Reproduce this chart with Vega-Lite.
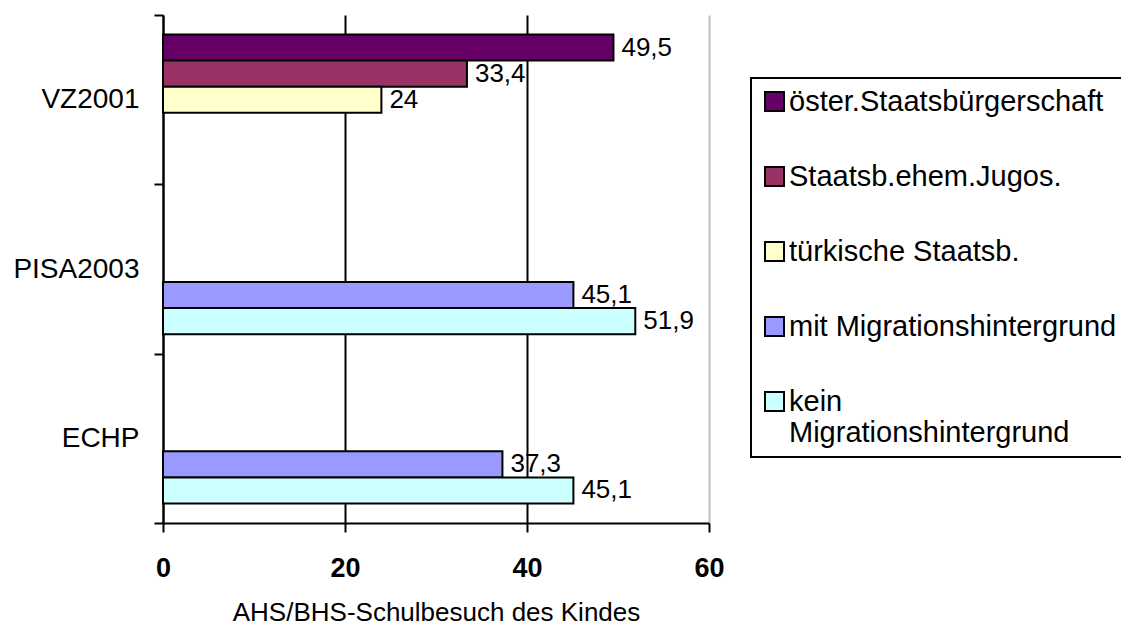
{
  "$schema": "https://vega.github.io/schema/vega-lite/v6.json",
  "width": 546,
  "height": 508,
  "autosize": {"type": "none"},
  "padding": {"left": 163, "top": 15, "right": 412, "bottom": 103},
  "config": {
    "view": {"stroke": null},
    "font": "Liberation Sans",
    "locale": {
      "number": {"decimal": ",", "thousands": ".", "grouping": [3], "currency": ["", " €"]}
    }
  },
  "data": {
    "values": [
      {"Erhebung": "VZ2001", "Gruppe": "öster.Staatsbürgerschaft", "Anteil": 49.5},
      {"Erhebung": "VZ2001", "Gruppe": "Staatsb.ehem.Jugos.", "Anteil": 33.4},
      {"Erhebung": "VZ2001", "Gruppe": "türkische Staatsb.", "Anteil": 24},
      {"Erhebung": "PISA2003", "Gruppe": "mit Migrationshintergrund", "Anteil": 45.1},
      {"Erhebung": "PISA2003", "Gruppe": "kein Migrationshintergrund", "Anteil": 51.9},
      {"Erhebung": "ECHP", "Gruppe": "mit Migrationshintergrund", "Anteil": 37.3},
      {"Erhebung": "ECHP", "Gruppe": "kein Migrationshintergrund", "Anteil": 45.1}
    ]
  },
  "encoding": {
    "y": {
      "field": "Erhebung",
      "type": "nominal",
      "sort": ["VZ2001", "PISA2003", "ECHP"],
      "scale": {"paddingInner": 0, "paddingOuter": 0},
      "axis": {
        "title": null,
        "tickBand": "extent",
        "tickSize": 9,
        "tickWidth": 2,
        "tickColor": "black",
        "domainColor": "black",
        "domainWidth": 2,
        "labelFontSize": 28,
        "labelColor": "black",
        "labelPadding": 15,
        "grid": false
      }
    },
    "yOffset": {
      "field": "Gruppe",
      "type": "nominal",
      "scale": {
        "domain": ["öster.Staatsbürgerschaft", "Staatsb.ehem.Jugos.", "türkische Staatsb.", "mit Migrationshintergrund", "kein Migrationshintergrund"],
        "paddingInner": 0,
        "paddingOuter": 0.75
      }
    },
    "x": {
      "field": "Anteil",
      "type": "quantitative",
      "scale": {"domain": [0, 60]},
      "axis": {
        "values": [0, 20, 40, 60],
        "grid": true,
        "gridColor": {"condition": {"test": "datum.value == 60", "value": "#c0c0c0"}, "value": "black"},
        "gridWidth": 2,
        "domainColor": "black",
        "domainWidth": 2,
        "tickSize": 9,
        "tickWidth": 2,
        "tickColor": "black",
        "labelFlush": false,
        "labelFontSize": 27,
        "labelFontWeight": "bold",
        "labelColor": "black",
        "labelPadding": 23,
        "title": "AHS/BHS-Schulbesuch des Kindes",
        "titleFontSize": 26,
        "titleFontWeight": "normal",
        "titleColor": "black",
        "titlePadding": 18
      }
    }
  },
  "layer": [
    {
      "mark": {"type": "bar", "stroke": "black", "strokeWidth": 2},
      "encoding": {
        "color": {
          "field": "Gruppe",
          "type": "nominal",
          "scale": {
            "domain": ["öster.Staatsbürgerschaft", "Staatsb.ehem.Jugos.", "türkische Staatsb.", "mit Migrationshintergrund", "kein Migrationshintergrund"],
            "range": ["#660066", "#993366", "#FFFFCC", "#9999FF", "#CCFFFF"]
          },
          "legend": {
            "title": null,
            "orient": "none",
            "legendX": 588,
            "legendY": 63,
            "symbolType": "square",
            "symbolSize": 361,
            "symbolStrokeColor": "black",
            "symbolStrokeWidth": 2,
            "symbolOpacity": 1,
            "labelFontSize": 29,
            "labelColor": "black",
            "labelOffset": 0,
            "labelLimit": 400,
            "rowPadding": 45,
            "padding": 9,
            "strokeColor": "black",
            "fillColor": "white",
            "labelExpr": "datum.label == 'kein Migrationshintergrund' ? ['kein', 'Migrationshintergrund'] : datum.label",
            "encode": {"legend": {"update": {"strokeWidth": {"value": 2}}}}
          }
        }
      }
    },
    {
      "mark": {"type": "text", "align": "left", "baseline": "middle", "dx": 8, "fontSize": 26, "color": "black"},
      "encoding": {
        "text": {"field": "Anteil", "type": "quantitative", "format": "~g"}
      }
    }
  ]
}
